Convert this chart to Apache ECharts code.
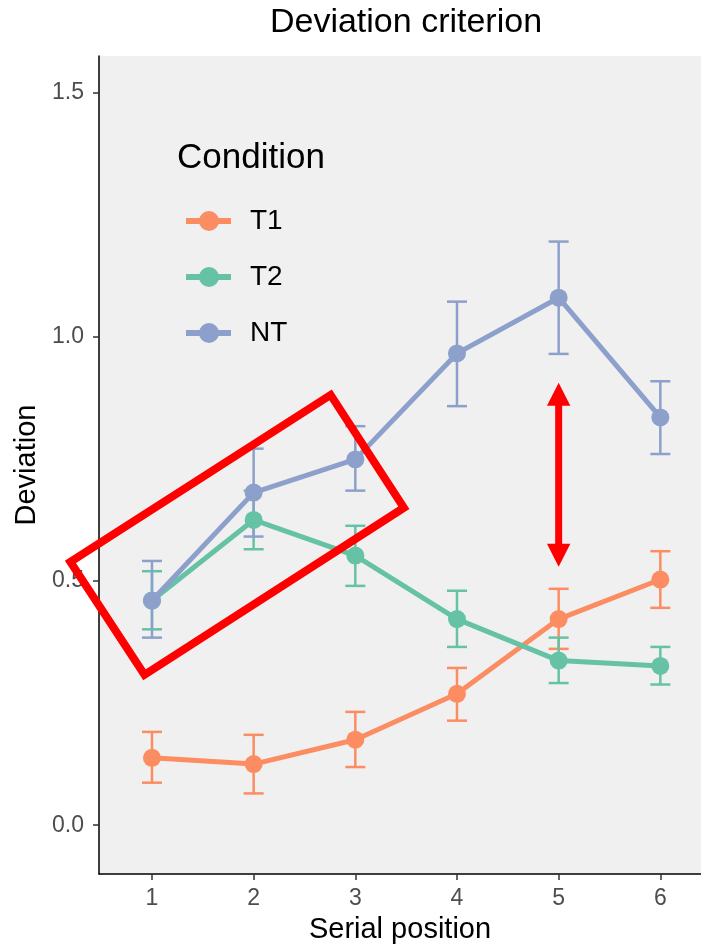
<!DOCTYPE html>
<html>
<head>
<meta charset="utf-8">
<script src="https://cdn.jsdelivr.net/npm/echarts@6/dist/echarts.min.js"></script>
<style>
html,body{margin:0;padding:0;background:#fff;}
#chart{width:701px;height:949px;}
</style>
</head>
<body>
<div id="chart"></div>
<script>
// ---- data ----
var positions = [1, 2, 3, 4, 5, 6];
var conditions = ['T1', 'T2', 'NT'];
var colors = ['#FC8D62', '#66C2A5', '#8DA0CB'];

var t1Mean  = [0.138, 0.125, 0.175, 0.269, 0.422, 0.503];
var t1Lower = [0.087, 0.065, 0.119, 0.214, 0.361, 0.445];
var t1Upper = [0.191, 0.185, 0.232, 0.322, 0.484, 0.561];

var t2Mean  = [0.460, 0.625, 0.552, 0.422, 0.337, 0.326];
var t2Lower = [0.401, 0.565, 0.490, 0.365, 0.291, 0.288];
var t2Upper = [0.520, 0.685, 0.613, 0.480, 0.384, 0.365];

var ntMean  = [0.460, 0.681, 0.749, 0.966, 1.080, 0.835];
var ntLower = [0.384, 0.591, 0.685, 0.858, 0.965, 0.760];
var ntUpper = [0.541, 0.771, 0.817, 1.072, 1.195, 0.909];

var yTicks = [0, 0.5, 1.0, 1.5];
var xTicks = [1, 2, 3, 4, 5, 6];

// annotations (data coordinates)
var rectCorners = [[0.198, 0.539], [2.757, 0.881], [3.478, 0.650], [0.926, 0.308]];
var arrowX = 5;
var arrowTop = 0.906;
var arrowBottom = 0.529;

var FONT = '"Liberation Sans", Arial, sans-serif';

var means = [t1Mean, t2Mean, ntMean];
var lowers = [t1Lower, t2Lower, ntLower];
var uppers = [t1Upper, t2Upper, ntUpper];

var chart = echarts.init(document.getElementById('chart'), null, {renderer: 'canvas'});

// legend key: line with a dot on it
var keyIcon = 'path://M0,7 L45,7 L45,13 L0,13 Z M13,10 A10,10 0 1,1 33,10 A10,10 0 1,1 13,10 Z';

var series = [];
conditions.forEach(function (name, i) {
  series.push({
    name: name + '_err',
    type: 'custom',
    z: 1,
    silent: true,
    data: positions.map(function (x, k) { return [x, lowers[i][k], uppers[i][k]]; }),
    renderItem: function (params, api) {
      var x = api.value(0);
      var lo = api.coord([x, api.value(1)]);
      var hi = api.coord([x, api.value(2)]);
      var hw = 10;
      var st = {stroke: colors[i], lineWidth: 2.5, fill: null};
      return {
        type: 'group',
        children: [
          {type: 'line', shape: {x1: lo[0], y1: lo[1], x2: hi[0], y2: hi[1]}, style: st},
          {type: 'line', shape: {x1: lo[0] - hw, y1: lo[1], x2: lo[0] + hw, y2: lo[1]}, style: st},
          {type: 'line', shape: {x1: hi[0] - hw, y1: hi[1], x2: hi[0] + hw, y2: hi[1]}, style: st}
        ]
      };
    }
  });
});
conditions.forEach(function (name, i) {
  series.push({
    name: name,
    type: 'line',
    z: 2 + i,
    data: positions.map(function (x, k) { return [x, means[i][k]]; }),
    symbol: 'circle',
    symbolSize: 18,
    showSymbol: true,
    lineStyle: {color: colors[i], width: 5},
    itemStyle: {color: colors[i]},
    emphasis: {disabled: true},
    animation: false
  });
});

var option = {
  animation: false,
  backgroundColor: '#ffffff',
  grid: {left: 99, right: 0, top: 56, bottom: 73, show: true, backgroundColor: '#F0F0F0', borderWidth: 0},
  xAxis: {
    type: 'value',
    min: 0.479,
    max: 6.40,
    name: 'Serial position',
    nameLocation: 'middle',
    nameGap: 41,
    nameTextStyle: {fontFamily: FONT, fontSize: 29, color: '#000'},
    axisLine: {show: true, onZero: false, lineStyle: {color: '#000', width: 1.5}},
    axisTick: {show: true, customValues: xTicks, length: 6, lineStyle: {color: '#333', width: 1.5}},
    axisLabel: {customValues: xTicks, fontFamily: FONT, fontSize: 23, color: '#4D4D4D', margin: 13},
    splitLine: {show: false}
  },
  yAxis: {
    type: 'value',
    min: -0.1,
    max: 1.575,
    name: 'Deviation',
    nameLocation: 'middle',
    nameGap: 52,
    nameRotate: 90,
    nameTextStyle: {fontFamily: FONT, fontSize: 29, color: '#000'},
    axisLine: {show: true, onZero: false, lineStyle: {color: '#000', width: 1.5}},
    axisTick: {show: true, customValues: yTicks, length: 6, lineStyle: {color: '#333', width: 1.5}},
    axisLabel: {customValues: yTicks, fontFamily: FONT, fontSize: 23, color: '#4D4D4D', margin: 15,
      formatter: function (v) { return v.toFixed(1); }},
    splitLine: {show: false}
  },
  legend: {
    data: conditions.map(function (n) { return {name: n, icon: keyIcon}; }),
    orient: 'vertical',
    left: 181,
    top: 202,
    itemWidth: 45,
    itemHeight: 20,
    itemGap: 28,
    textStyle: {fontFamily: FONT, fontSize: 28, color: '#000', padding: [0, 0, 0, 14]},
    selectedMode: false
  },
  series: series
};
chart.setOption(option);

function drawAnnotations() {
  var pts = rectCorners.map(function (c) { return chart.convertToPixel({gridIndex: 0}, c); });
  var top = chart.convertToPixel({gridIndex: 0}, [arrowX, arrowTop]);
  var bot = chart.convertToPixel({gridIndex: 0}, [arrowX, arrowBottom]);
  var cx = top[0], ty = top[1], by = bot[1];
  var hl = 23, hw = 11.7, sw = 3.5;
  var arrow = [
    [cx, ty], [cx + hw, ty + hl], [cx + sw, ty + hl], [cx + sw, by - hl], [cx + hw, by - hl],
    [cx, by], [cx - hw, by - hl], [cx - sw, by - hl], [cx - sw, ty + hl], [cx - hw, ty + hl]
  ];
  chart.setOption({
    graphic: [
      {type: 'text', position: [406, 23], z: 100,
        style: {text: 'Deviation criterion', fontFamily: FONT, fontSize: 34, fill: '#000',
          align: 'center', verticalAlign: 'middle'}},
      {type: 'text', position: [177, 158], z: 100,
        style: {text: 'Condition', fontFamily: FONT, fontSize: 35, fill: '#000', align: 'left', verticalAlign: 'middle'}},
      {type: 'polygon', z: 100, shape: {points: pts},
        style: {fill: null, stroke: '#FF0000', lineWidth: 8, lineJoin: 'miter'}},
      {type: 'polygon', z: 100, shape: {points: arrow}, style: {fill: '#FF0000', stroke: null}}
    ]
  });
}
drawAnnotations();
</script>
</body>
</html>
